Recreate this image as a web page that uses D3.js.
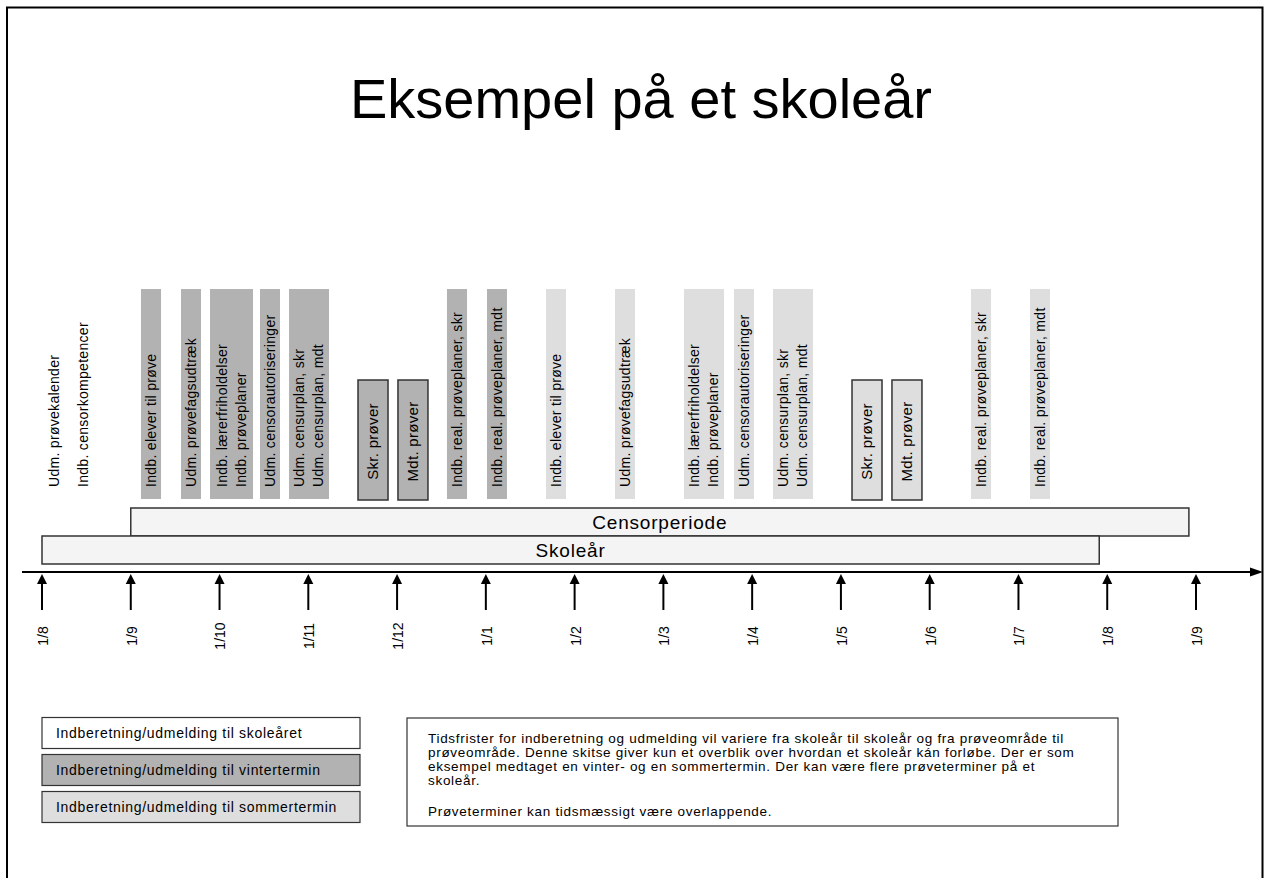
<!DOCTYPE html>
<html>
<head>
<meta charset="utf-8">
<script src="https://cdnjs.cloudflare.com/ajax/libs/d3/7.8.5/d3.min.js"></script>
<style>
  body { margin: 0; background: #fff; }
  svg text { font-family: "Liberation Sans", Arial, sans-serif; fill: #000; }
</style>
</head>
<body>
<div id="chart"></div>
<script>
(function skoleaar() {

  // month ticks along the time line (index = months after 1/8)
  var monthLabels = ["1/8", "1/9", "1/10", "1/11", "1/12", "1/1", "1/2", "1/3", "1/4", "1/5", "1/6", "1/7", "1/8", "1/9"];

  // deadlines for the whole school year (no box)
  var skoleaarItems = [
    { lines: ["Udm. prøvekalender"], at: 0.135 },
    { lines: ["Indb. censorkompetencer"], at: 0.46 }
  ];

  // winter term deadlines, from/to in months
  var vinterDeadlines = [
    { lines: ["Indb. elever til prøve"], from: 1.115, to: 1.341 },
    { lines: ["Udm. prøvefagsudtræk"], from: 1.566, to: 1.791 },
    { lines: ["Indb. lærerfriholdelser", "Indb. prøveplaner"], from: 1.893, to: 2.377 },
    { lines: ["Udm. censorautoriseringer"], from: 2.456, to: 2.681 },
    { lines: ["Udm. censurplan, skr", "Udm. censurplan, mdt"], from: 2.783, to: 3.233 },
    { lines: ["Indb. real. prøveplaner, skr"], from: 4.562, to: 4.788 },
    { lines: ["Indb. real. prøveplaner, mdt"], from: 5.013, to: 5.238 }
  ];
  var vinterExams = [
    { label: "Skr. prøver", from: 3.56, to: 3.898 },
    { label: "Mdt. prøver", from: 4.01, to: 4.348 }
  ];

  // summer term deadlines
  var sommerDeadlines = [
    { lines: ["Indb. elever til prøve"], from: 5.678, to: 5.903 },
    { lines: ["Udm. prøvefagsudtræk"], from: 6.455, to: 6.68 },
    { lines: ["Indb. lærerfriholdelser", "Indb. prøveplaner"], from: 7.232, to: 7.683 },
    { lines: ["Udm. censorautoriseringer"], from: 7.795, to: 8.021 },
    { lines: ["Udm. censurplan, skr", "Udm. censurplan, mdt"], from: 8.235, to: 8.686 },
    { lines: ["Indb. real. prøveplaner, skr"], from: 10.465, to: 10.691 },
    { lines: ["Indb. real. prøveplaner, mdt"], from: 11.13, to: 11.355 }
  ];
  var sommerExams = [
    { label: "Skr. prøver", from: 9.125, to: 9.463 },
    { label: "Mdt. prøver", from: 9.575, to: 9.913 }
  ];

  var periods = [
    { label: "Censorperiode", from: 1, to: 12.92 },
    { label: "Skoleår", from: 0, to: 11.91 }
  ];

  var legendItems = [
    { label: "Indberetning/udmelding til skoleåret", term: "skoleaar" },
    { label: "Indberetning/udmelding til vintertermin", term: "vinter" },
    { label: "Indberetning/udmelding til sommertermin", term: "sommer" }
  ];

  var noteLines = [
    "Tidsfrister for indberetning og udmelding vil variere fra skoleår til skoleår og fra prøveområde til",
    "prøveområde. Denne skitse giver kun et overblik over hvordan et skoleår kán forløbe. Der er som",
    "eksempel medtaget en vinter- og en sommertermin. Der kan være flere prøveterminer på et",
    "skoleår."
  ];
  var noteLast = "Prøveterminer kan tidsmæssigt være overlappende.";

  var graphtitle = "Eksempel på et skoleår";

  var W = 1272, H = 878;
  var fills = { skoleaar: "#ffffff", vinter: "#b2b2b2", sommer: "#dedede" };

  var barTop = 289, barBottom = 499, examTop = 380;
  var axisY = 572;

  var x = d3.scaleLinear()
    .domain([0, monthLabels.length - 1])
    .range([42, 1196]);

  var svg = d3.select("#chart").append("svg")
    .attr("width", W)
    .attr("height", H);

  // page frame
  svg.append("rect")
    .attr("x", 7).attr("y", 7.5)
    .attr("width", 1255.5).attr("height", 900)
    .attr("fill", "none")
    .attr("stroke", "#000")
    .attr("stroke-width", 2);

  svg.append("text")
    .attr("x", 641).attr("y", 118)
    .attr("text-anchor", "middle")
    .style("font-size", "56px")
    .text(graphtitle);

  // vertical text helper: lines centred on cx, reading bottom-up from y0
  function vtext(g, lines, cx, y0, anchor, size) {
    var step = 19;
    var t = g.append("text")
      .attr("transform", "translate(" + cx + "," + y0 + ") rotate(-90)")
      .attr("text-anchor", anchor)
      .style("font-size", size + "px")
      .style("letter-spacing", "0.3px");
    lines.forEach(function(l, i) {
      t.append("tspan")
        .attr("x", 0)
        .attr("y", (i - (lines.length - 1) / 2) * step)
        .attr("dy", "0.35em")
        .text(l);
    });
  }

  function drawDeadlines(list, term) {
    var g = svg.append("g").attr("class", "deadlines " + term);
    list.forEach(function(d) {
      g.append("rect")
        .attr("x", x(d.from))
        .attr("y", barTop)
        .attr("width", x(d.to) - x(d.from))
        .attr("height", barBottom - barTop)
        .attr("fill", fills[term]);
      vtext(g, d.lines, (x(d.from) + x(d.to)) / 2, barBottom - 12, "start", 14);
    });
  }

  function drawExams(list, term) {
    var g = svg.append("g").attr("class", "exams " + term);
    list.forEach(function(d) {
      g.append("rect")
        .attr("x", x(d.from))
        .attr("y", examTop)
        .attr("width", x(d.to) - x(d.from))
        .attr("height", barBottom + 1 - examTop)
        .attr("fill", fills[term])
        .attr("stroke", "#333")
        .attr("stroke-width", 1.5);
      vtext(g, [d.label], (x(d.from) + x(d.to)) / 2, (examTop + barBottom) / 2 + 2, "middle", 15);
    });
  }

  drawDeadlines(vinterDeadlines, "vinter");
  drawExams(vinterExams, "vinter");
  drawDeadlines(sommerDeadlines, "sommer");
  drawExams(sommerExams, "sommer");

  skoleaarItems.forEach(function(d) {
    vtext(svg, d.lines, x(d.at), barBottom - 12, "start", 14);
  });

  // censor period and school year bars
  var periodTop = 508, periodH = 28;
  periods.forEach(function(d, i) {
    var y0 = periodTop + i * periodH;
    svg.append("rect")
      .attr("x", x(d.from))
      .attr("y", y0)
      .attr("width", x(d.to) - x(d.from))
      .attr("height", periodH)
      .attr("fill", "#f4f4f4")
      .attr("stroke", "#333")
      .attr("stroke-width", 1.5);
    svg.append("text")
      .attr("x", (x(d.from) + x(d.to)) / 2)
      .attr("y", y0 + periodH / 2)
      .attr("dy", "0.35em")
      .attr("text-anchor", "middle")
      .style("font-size", "19px")
      .style("letter-spacing", "0.8px")
      .text(d.label);
  });

  // time line with arrow
  svg.append("line")
    .attr("x1", 22).attr("x2", 1252)
    .attr("y1", axisY).attr("y2", axisY)
    .attr("stroke", "#000").attr("stroke-width", 2);
  svg.append("path")
    .attr("d", "M1250," + (axisY - 4.5) + "L1263," + axisY + "L1250," + (axisY + 4.5) + "Z")
    .attr("fill", "#000");

  var ticks = svg.append("g").attr("class", "ticks")
    .selectAll("g")
    .data(monthLabels)
    .enter().append("g")
    .attr("transform", function(d, i) { return "translate(" + x(i) + ",0)"; });

  ticks.append("line")
    .attr("y1", axisY + 10).attr("y2", 610)
    .attr("stroke", "#000").attr("stroke-width", 2);
  ticks.append("path")
    .attr("d", "M0," + (axisY + 2) + "L5," + (axisY + 12) + "L-5," + (axisY + 12) + "Z")
    .attr("fill", "#000");
  ticks.append("text")
    .attr("transform", "translate(1,636) rotate(-90)")
    .attr("dy", "0.35em")
    .attr("text-anchor", "middle")
    .style("font-size", "14px")
    .text(function(d) { return d; });

  // legend
  var legend = svg.append("g").attr("class", "legend")
    .selectAll("g")
    .data(legendItems)
    .enter().append("g")
    .attr("transform", function(d, i) { return "translate(42," + (717.5 + i * 37) + ")"; });
  legend.append("rect")
    .attr("width", 318).attr("height", 31)
    .attr("fill", function(d) { return fills[d.term]; })
    .attr("stroke", "#333").attr("stroke-width", 1.2);
  legend.append("text")
    .attr("x", 14).attr("y", 15.5)
    .attr("dy", "0.35em")
    .style("font-size", "14px")
    .style("letter-spacing", "0.7px")
    .text(function(d) { return d.label; });

  // explanatory note
  var note = svg.append("g").attr("transform", "translate(407,718)");
  note.append("rect")
    .attr("width", 711).attr("height", 108)
    .attr("fill", "#fff")
    .attr("stroke", "#333").attr("stroke-width", 1.2);
  var nt = note.append("text").style("font-size", "13.5px").style("letter-spacing", "0.7px");
  noteLines.forEach(function(l, i) {
    nt.append("tspan").attr("x", 21).attr("y", 25 + i * 14).text(l);
  });
  nt.append("tspan").attr("x", 21).attr("y", 98).text(noteLast);

})();
</script>
</body>
</html>
